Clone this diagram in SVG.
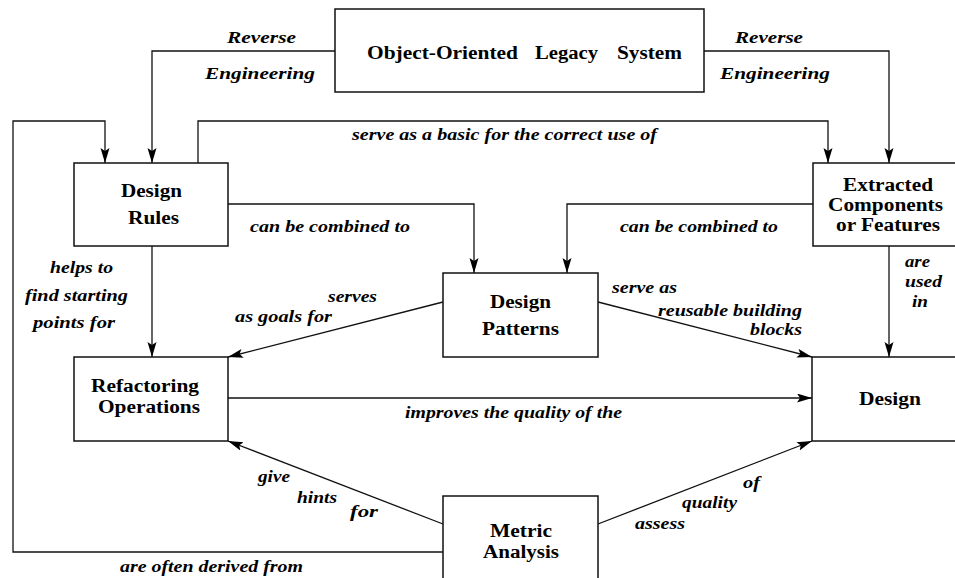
<svg xmlns="http://www.w3.org/2000/svg" width="955" height="578" viewBox="0 0 955 578">
  <style>
    .box { fill: #ffffff; stroke: #111111; stroke-width: 1.5; }
    .node { font-family: "Liberation Serif", "Times New Roman", serif; font-weight: bold; font-size: 18px; fill: #000000; }
    .lbl { font-family: "Liberation Serif", "Times New Roman", serif; font-weight: bold; font-style: italic; font-size: 17px; fill: #000000; }
    .edge { fill: none; stroke: #111111; stroke-width: 1.3; marker-end: url(#arrow); }
  </style>
  <defs>
    <marker id="arrow" markerUnits="userSpaceOnUse" markerWidth="16" markerHeight="10" refX="15" refY="4.5" orient="auto">
      <path d="M0,0 L15,4.5 L0,9 L3,4.5 z" fill="#000000"/>
    </marker>
  </defs>
  <rect width="955" height="578" fill="#ffffff"/>

  <g id="connectors">
    <polyline class="edge" points="335,51 152,51 152,163"/>
    <polyline class="edge" points="704,51 889,51 889,163"/>
    <polyline class="edge" points="198,163 198,121 828,121 828,163"/>
    <polyline class="edge" points="443,552 13,552 13,121 105,121 105,163"/>
    <polyline class="edge" points="228,204 474,204 474,273"/>
    <polyline class="edge" points="813,204 567,204 567,273"/>
    <polyline class="edge" points="152,246 152,357"/>
    <polyline class="edge" points="443,302 228,357"/>
    <polyline class="edge" points="598,302 812,357"/>
    <polyline class="edge" points="889,246 889,357"/>
    <polyline class="edge" points="228,398 812,398"/>
    <polyline class="edge" points="443,524 228,441"/>
    <polyline class="edge" points="598,524 812,441"/>

    <text class="lbl" x="227" y="43" textLength="69" lengthAdjust="spacingAndGlyphs">Reverse</text>
    <text class="lbl" x="205" y="79" textLength="110" lengthAdjust="spacingAndGlyphs">Engineering</text>
    <text class="lbl" x="735" y="43" textLength="68" lengthAdjust="spacingAndGlyphs">Reverse</text>
    <text class="lbl" x="720" y="79" textLength="110" lengthAdjust="spacingAndGlyphs">Engineering</text>
    <text class="lbl" x="352" y="140" textLength="305" lengthAdjust="spacingAndGlyphs">serve as a basic for the correct use of</text>
    <text class="lbl" x="250" y="232" textLength="160" lengthAdjust="spacingAndGlyphs">can be combined to</text>
    <text class="lbl" x="620" y="232" textLength="158" lengthAdjust="spacingAndGlyphs">can be combined to</text>
    <text class="lbl" x="50" y="273" textLength="63" lengthAdjust="spacingAndGlyphs">helps to</text>
    <text class="lbl" x="25" y="301" textLength="103" lengthAdjust="spacingAndGlyphs">find starting</text>
    <text class="lbl" x="33" y="328" textLength="82" lengthAdjust="spacingAndGlyphs">points for</text>
    <text class="lbl" x="328" y="302" textLength="49" lengthAdjust="spacingAndGlyphs">serves</text>
    <text class="lbl" x="235" y="322" textLength="97" lengthAdjust="spacingAndGlyphs">as goals for</text>
    <text class="lbl" x="612" y="293" textLength="65" lengthAdjust="spacingAndGlyphs">serve as</text>
    <text class="lbl" x="658" y="316" textLength="144" lengthAdjust="spacingAndGlyphs">reusable building</text>
    <text class="lbl" x="750" y="335" textLength="52" lengthAdjust="spacingAndGlyphs">blocks</text>
    <text class="lbl" x="905" y="267" textLength="25" lengthAdjust="spacingAndGlyphs">are</text>
    <text class="lbl" x="905" y="287" textLength="37" lengthAdjust="spacingAndGlyphs">used</text>
    <text class="lbl" x="912" y="307" textLength="16" lengthAdjust="spacingAndGlyphs">in</text>
    <text class="lbl" x="405" y="418" textLength="217" lengthAdjust="spacingAndGlyphs">improves the quality of the</text>
    <text class="lbl" x="258" y="482" textLength="32" lengthAdjust="spacingAndGlyphs">give</text>
    <text class="lbl" x="297" y="503" textLength="40" lengthAdjust="spacingAndGlyphs">hints</text>
    <text class="lbl" x="350" y="517" textLength="28" lengthAdjust="spacingAndGlyphs">for</text>
    <text class="lbl" x="743" y="488" textLength="17" lengthAdjust="spacingAndGlyphs">of</text>
    <text class="lbl" x="682" y="508" textLength="55" lengthAdjust="spacingAndGlyphs">quality</text>
    <text class="lbl" x="635" y="529" textLength="50" lengthAdjust="spacingAndGlyphs">assess</text>
    <text class="lbl" x="120" y="572" textLength="183" lengthAdjust="spacingAndGlyphs">are often derived from</text>
  </g>

  <g id="legacy-system">
    <rect class="box" x="335" y="9" width="369" height="83"/>
    <text class="node" x="367" y="59" textLength="151" lengthAdjust="spacingAndGlyphs">Object-Oriented</text>
    <text class="node" x="535" y="59" textLength="63" lengthAdjust="spacingAndGlyphs">Legacy</text>
    <text class="node" x="617" y="59" textLength="65" lengthAdjust="spacingAndGlyphs">System</text>
  </g>

  <g id="design-rules">
    <rect class="box" x="74" y="163" width="154" height="83"/>
    <text class="node" x="121" y="197" textLength="61" lengthAdjust="spacingAndGlyphs">Design</text>
    <text class="node" x="128" y="224" textLength="51" lengthAdjust="spacingAndGlyphs">Rules</text>
  </g>

  <g id="extracted-components">
    <rect class="box" x="813" y="163" width="160" height="83"/>
    <text class="node" x="843" y="191" textLength="90" lengthAdjust="spacingAndGlyphs">Extracted</text>
    <text class="node" x="828" y="211" textLength="115" lengthAdjust="spacingAndGlyphs">Components</text>
    <text class="node" x="836" y="231" textLength="104" lengthAdjust="spacingAndGlyphs">or Features</text>
  </g>

  <g id="design-patterns">
    <rect class="box" x="443" y="273" width="155" height="84"/>
    <text class="node" x="490" y="308" textLength="61" lengthAdjust="spacingAndGlyphs">Design</text>
    <text class="node" x="482" y="335" textLength="77" lengthAdjust="spacingAndGlyphs">Patterns</text>
  </g>

  <g id="refactoring-operations">
    <rect class="box" x="74" y="357" width="154" height="84"/>
    <text class="node" x="91" y="392" textLength="108" lengthAdjust="spacingAndGlyphs">Refactoring</text>
    <text class="node" x="98" y="413" textLength="102" lengthAdjust="spacingAndGlyphs">Operations</text>
  </g>

  <g id="design">
    <rect class="box" x="812" y="357" width="161" height="84"/>
    <text class="node" x="859" y="405" textLength="62" lengthAdjust="spacingAndGlyphs">Design</text>
  </g>

  <g id="metric-analysis">
    <rect class="box" x="443" y="496" width="155" height="100"/>
    <text class="node" x="490" y="537" textLength="62" lengthAdjust="spacingAndGlyphs">Metric</text>
    <text class="node" x="483" y="558" textLength="76" lengthAdjust="spacingAndGlyphs">Analysis</text>
  </g>
</svg>
